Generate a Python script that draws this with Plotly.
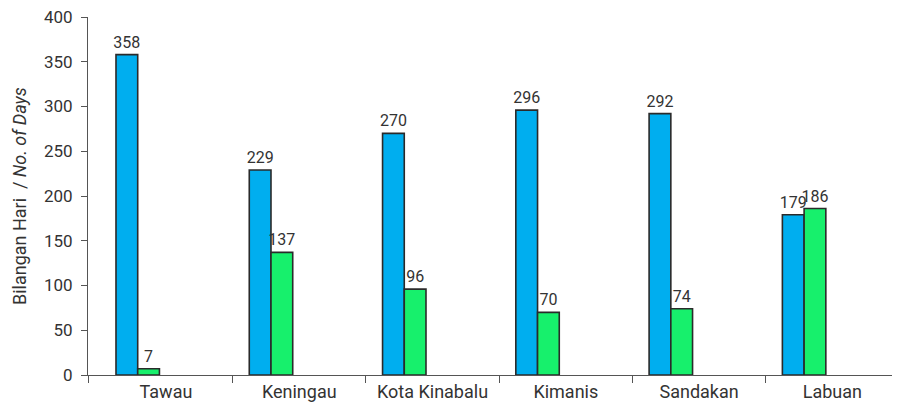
import plotly.graph_objects as go

# stations and number of days per series
stations = ["Tawau", "Keningau", "Kota Kinabalu", "Kimanis", "Sandakan", "Labuan"]
blue_days = [358, 229, 270, 296, 292, 179]
green_days = [7, 137, 96, 70, 74, 186]

pos = list(range(len(stations)))
font = "Roboto, 'DejaVu Sans', sans-serif"

fig = go.Figure()
fig.add_trace(go.Bar(
    x=pos, y=blue_days, offset=-0.375, width=0.163,
    marker=dict(color="#00AEEF", line=dict(color="#2a2a2a", width=1.6)),
    text=blue_days, textposition="outside", cliponaxis=False, constraintext="none",
    textfont=dict(size=16, color="#333333", family=font),
))
fig.add_trace(go.Bar(
    x=pos, y=green_days, offset=-0.212, width=0.163,
    marker=dict(color="#17F06C", line=dict(color="#2a2a2a", width=1.6)),
    text=green_days, textposition="outside", cliponaxis=False, constraintext="none",
    textfont=dict(size=16, color="#333333", family=font),
))

# page body has an 8px margin, so the figure is 8px smaller and margins shifted
fig.update_layout(
    width=892, height=395,
    margin=dict(l=80, r=1, t=9, b=28),
    barmode="overlay",
    showlegend=False,
    plot_bgcolor="white", paper_bgcolor="white",
    font=dict(family=font, size=17, color="#333333"),
)
fig.add_annotation(
    text="Bilangan Hari  / <i>No. of Days</i>", textangle=-90,
    xref="paper", yref="paper", x=-0.085, y=0.5, xanchor="center", yanchor="middle",
    showarrow=False, font=dict(size=18),
)
fig.update_xaxes(
    range=[-0.585, 5.5], automargin=False,
    tickvals=pos, ticktext=stations, ticks="",
    showline=True, linecolor="#555555", linewidth=1,
    showgrid=False, zeroline=False,
    tickfont=dict(size=18), ticklabeloverflow="allow",
    minor=dict(tickvals=[-0.585, 0.5, 1.5, 2.5, 3.5, 4.5, 5.5], ticks="outside",
               ticklen=7, tickcolor="#555555", showgrid=False),
)
fig.update_yaxes(
    range=[0, 400], tickvals=[0, 50, 100, 150, 200, 250, 300, 350, 400], automargin=False,
    ticks="outside", ticklen=6, tickcolor="#555555",
    showline=True, linecolor="#555555", linewidth=1,
    showgrid=False, zeroline=False,
    tickfont=dict(size=17), ticklabeloverflow="allow", ticklabelstandoff=5,
)

fig.write_html("out.html")
